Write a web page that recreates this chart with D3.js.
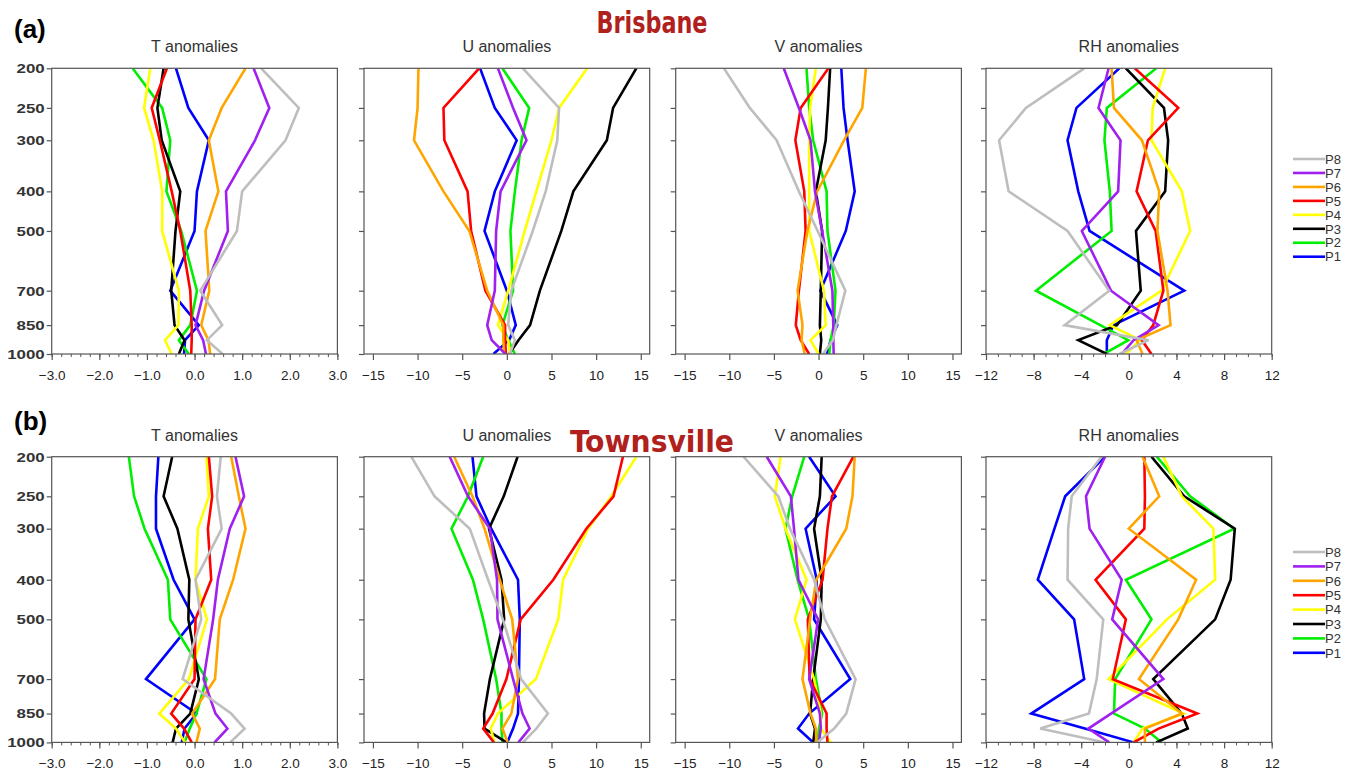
<!DOCTYPE html>
<html>
<head>
<meta charset="utf-8">
<script src="https://cdn.jsdelivr.net/npm/d3@7"></script>
<style>
  html, body { margin: 0; padding: 0; background: #fff; }
  svg { display: block; }
</style>
</head>
<body>
<svg id="chart" width="1354" height="777"></svg>
<script>
// Pressure levels (hPa) and tick levels on the vertical axis
const levels = [200, 250, 300, 400, 500, 700, 850, 925, 1000];
const levelTicks = [200, 250, 300, 400, 500, 700, 850, 1000];

// Series (P1..P8) and their colours
const seriesNames = ["P1", "P2", "P3", "P4", "P5", "P6", "P7", "P8"];
const seriesColors = ["#0000ff", "#00ee00", "#000000", "#ffff00", "#ff0000", "#ffa500", "#a020f0", "#bebebe"];

// Panel variables
const panelTitles = ["T anomalies", "U anomalies", "V anomalies", "RH anomalies"];
const xDomains = [[-3, 3], [-16, 16], [-16, 16], [-12, 12]];
const xMajorTicks = [[-3, -2, -1, 0, 1, 2, 3], [-15, -10, -5, 0, 5, 10, 15], [-15, -10, -5, 0, 5, 10, 15], [-12, -8, -4, 0, 4, 8, 12]];
const xMinorStep = [0.2, null, null, 1];

// Brisbane profiles, one row per series (P1..P8), one value per level
const brisbaneT = [
  [-0.39, -0.13, 0.30, 0.05, 0.00, -0.51, 0.09, -0.20, -0.22],
  [-1.30, -0.68, -0.51, -0.59, -0.28, 0.05, -0.09, -0.33, -0.12],
  [-0.65, -0.78, -0.69, -0.30, -0.40, -0.49, -0.42, -0.21, -0.33],
  [-0.93, -1.06, -0.86, -0.68, -0.68, -0.33, -0.34, -0.62, -0.48],
  [-0.58, -0.90, -0.73, -0.48, -0.30, -0.09, -0.06, -0.06, -0.07],
  [1.07, 0.57, 0.30, 0.50, 0.23, 0.31, 0.14, 0.29, 0.33],
  [1.24, 1.57, 1.27, 0.66, 0.70, 0.20, 0.02, 0.18, 0.24],
  [1.40, 2.19, 1.91, 1.00, 0.89, 0.12, 0.58, 0.26, 0.59]
];
const brisbaneU = [
  [-3.0, -1.35, 1.1, -1.35, -2.5, 0.0, 1.0, 0.25, -1.5],
  [-0.5, 2.5, 1.65, 0.9, 0.4, 0.7, -0.5, 0.15, 0.9],
  [14.5, 11.9, 11.2, 7.45, 6.1, 3.7, 2.6, 1.3, 0.25],
  [9.0, 5.85, 5.0, 3.3, 2.0, 0.15, -1.0, 0.15, 0.35],
  [-3.1, -7.1, -7.0, -4.4, -4.0, -2.4, -0.2, -0.2, -0.1],
  [-9.9, -10.0, -10.4, -7.1, -4.2, -2.2, -0.4, -0.4, -0.3],
  [-1.0, 0.7, 2.2, -0.7, -1.2, -1.35, -2.2, -1.7, -0.15],
  [1.8, 5.85, 5.65, 4.35, 2.9, 0.5, 0.15, 0.9, 0.35]
];
const brisbaneV = [
  [2.55, 2.8, 3.25, 4.05, 3.05, 0.2, 2.1, 1.35, 0.95],
  [-1.35, -1.05, -0.6, 0.9, 1.0, 1.9, 1.7, 1.35, 1.2],
  [1.3, 1.05, 0.8, -0.3, 0.4, 0.25, 0.15, 0.3, 0.15],
  [-0.3, -0.95, -1.05, -1.05, -1.05, 0.6, 0.8, -0.9, 0.0],
  [1.1, -2.0, -2.6, -1.6, -1.45, -2.2, -2.55, -2.0, -1.05],
  [5.3, 4.9, 2.85, -0.15, -1.25, -2.35, -1.8, -1.9, -1.55],
  [-3.9, -2.2, -0.9, -0.4, 0.4, 1.55, 1.65, 1.65, 1.7],
  [-10.6, -7.7, -4.7, -2.2, -0.1, 3.0, 2.0, 1.6, 0.5]
];
const brisbaneRH = [
  [-0.8, -4.4, -5.15, -4.25, -3.3, 4.65, -1.3, -1.85, -1.85],
  [2.3, -1.85, -2.05, -1.6, -1.45, -7.8, -2.4, -0.05, -2.1],
  [-0.25, 2.95, 3.3, 3.05, 0.6, 1.0, -1.0, -4.25, -1.85],
  [3.05, 2.0, 1.9, 4.45, 5.15, 2.75, -1.6, 0.95, -0.25],
  [0.5, 4.15, 1.6, 0.65, 2.25, 2.9, 2.05, 1.1, 1.9],
  [-1.45, -1.25, 1.1, 2.55, 2.4, 3.25, 3.5, 0.65, 1.15],
  [-1.7, -2.55, -0.7, -0.9, -3.95, -1.5, 2.5, 0.4, -0.6],
  [-3.75, -8.65, -10.9, -10.1, -5.15, -1.65, -5.4, 1.65, -0.8]
];

// Townsville profiles
const townsvilleT = [
  [-0.76, -0.81, -0.81, -0.44, 0.00, -1.02, 0.04, -0.21, -0.27],
  [-1.38, -1.27, -1.05, -0.56, -0.51, 0.25, 0.04, -0.10, -0.21],
  [-0.47, -0.65, -0.36, -0.11, -0.13, 0.09, -0.09, -0.39, -0.46],
  [0.25, 0.30, 0.07, 0.02, 0.26, -0.12, -0.74, -0.39, -0.20],
  [0.30, 0.37, 0.28, 0.35, 0.02, 0.00, -0.49, -0.22, -0.06],
  [0.77, 0.93, 1.07, 0.81, 0.53, 0.43, -0.05, 0.11, 0.04],
  [0.86, 1.04, 0.74, 0.49, 0.39, 0.19, 0.44, 0.69, 0.42],
  [0.55, 0.47, 0.57, 0.02, 0.14, -0.25, 0.77, 1.05, 0.75]
];
const townsvilleU = [
  [-3.85, -3.4, -1.75, 1.25, 1.45, 1.35, 1.25, 0.7, 0.05],
  [-2.65, -4.35, -6.2, -3.8, -2.65, -1.2, -0.6, -0.6, -0.5],
  [1.2, -0.35, -2.0, -0.6, -0.3, -1.9, -2.55, -2.5, -0.05],
  [14.5, 11.7, 9.1, 6.3, 5.75, 3.25, -1.0, -1.8, -1.4],
  [13.0, 11.95, 8.9, 5.2, 1.55, -0.05, -1.6, -2.65, -1.45],
  [-5.9, -3.85, -2.5, -0.8, 0.6, 1.25, 0.5, -0.5, 0.1],
  [-6.4, -4.35, -1.9, -1.1, -1.05, 0.7, 1.75, 2.55, 1.3],
  [-10.7, -8.1, -4.15, -2.1, -0.45, 1.6, 4.6, 3.3, 1.8]
];
const townsvilleV = [
  [-1.05, 1.9, -1.45, -0.2, -0.5, 3.55, -1.05, -2.3, -0.6],
  [-1.6, -2.95, -3.7, -2.35, -1.05, -0.3, 0.4, 0.05, -0.15],
  [0.35, 0.15, -0.5, 0.35, 0.25, -0.6, -0.95, -0.4, -0.6],
  [-4.25, -4.9, -3.7, -1.35, -2.65, -0.5, 0.25, 0.25, 1.35],
  [3.9, 1.5, 1.0, 0.45, -1.2, -1.0, 0.9, 0.9, 1.0],
  [4.05, 3.8, 3.1, -0.25, -0.95, -1.8, -0.9, -0.3, -0.25],
  [-5.8, -3.1, -2.75, -2.25, -0.05, -1.05, 0.15, 0.25, 0.05],
  [-8.4, -4.5, -3.2, -0.5, 0.7, 4.15, 3.1, 1.75, -0.15]
];
const townsvilleRH = [
  [-2.0, -5.35, -6.25, -7.65, -4.6, -3.75, -8.2, -3.7, 0.4],
  [2.35, 5.15, 8.85, -0.25, 1.9, -1.15, -1.25, 1.35, 2.75],
  [1.9, 4.65, 8.9, 8.55, 7.25, 2.05, 4.45, 4.95, 2.3],
  [2.9, 4.45, 7.1, 7.25, 3.2, -1.7, 4.6, 1.15, 0.4],
  [1.3, 1.35, 1.3, -2.8, -0.25, -1.35, 5.75, 2.5, 0.4],
  [1.15, 2.55, 0.0, 5.65, 4.15, 0.85, 4.45, 1.35, 1.35],
  [-2.0, -3.6, -3.3, -0.6, -1.4, 2.9, -1.5, -3.4, -1.65],
  [-2.3, -4.8, -5.1, -5.15, -2.15, -2.7, -3.35, -7.45, -2.0]
];

const stationNames = ["Brisbane", "Townsville"];
const panelLetters = ["(a)", "(b)"];
const stationData = [
  [brisbaneT, brisbaneU, brisbaneV, brisbaneRH],
  [townsvilleT, townsvilleU, townsvilleV, townsvilleRH]
];

// Layout
const svg = d3.select("#chart");
const colLeft = [51.7, 364, 675.7, 986];
const panelW = 285.7;
const rowTop = [68.3, 456.7];
const panelH = 285.7;
const letterBaseline = [38, 430];
const stationBaseline = [33, 452];
const stationWidth = [111, 164];
const legendTop = [159, 552];
const legendStep = [13.96, 14.4];
const axisColor = "#555";
const textColor = "#222";
const fontFamily = "'Liberation Sans', Arial, Helvetica, sans-serif";
const yLabelStretch = 1.25;

stationData.forEach((rowData, r) => {
  const top = rowTop[r];
  const y = d3.scaleLog().domain([200, 1000]).range([top, top + panelH]);

  rowData.forEach((panelSeries, c) => {
    const left = colLeft[c];
    const x = d3.scaleLinear().domain(xDomains[c]).range([left, left + panelW]);
    const g = svg.append("g");

    // Panel title
    g.append("text")
      .attr("x", left + panelW / 2).attr("y", top - 16)
      .attr("text-anchor", "middle")
      .attr("font-family", fontFamily).attr("font-size", 16)
      .attr("fill", "#333")
      .text(panelTitles[c]);

    // Clip region for the profile lines
    const clipId = `clip-${r}-${c}`;
    g.append("clipPath").attr("id", clipId)
      .append("rect")
      .attr("x", left).attr("y", top).attr("width", panelW).attr("height", panelH);

    const line = d3.line()
      .x(d => x(d.v))
      .y(d => y(d.p));

    const lines = g.append("g").attr("clip-path", `url(#${clipId})`);
    panelSeries.forEach((vals, s) => {
      const pts = vals.map((v, i) => ({ v, p: levels[i] }));
      lines.append("path")
        .datum(pts)
        .attr("d", line)
        .attr("fill", "none")
        .attr("stroke", seriesColors[s])
        .attr("stroke-width", 2.6)
        .attr("stroke-linejoin", "miter")
        .attr("stroke-miterlimit", 3);
    });

    // Frame
    g.append("rect")
      .attr("x", left).attr("y", top)
      .attr("width", panelW).attr("height", panelH)
      .attr("fill", "none").attr("stroke", axisColor).attr("stroke-width", 1.2);

    // Bottom axis: minor ticks
    if (xMinorStep[c]) {
      const [a, b] = xDomains[c];
      const minor = d3.range(a, b + 1e-9, xMinorStep[c]).map(v => +v.toFixed(4));
      const minorAxis = d3.axisBottom(x).tickValues(minor).tickSize(3).tickFormat("");
      const mg = g.append("g").attr("transform", `translate(0,${top + panelH})`).call(minorAxis);
      mg.select(".domain").remove();
      mg.selectAll("line").attr("stroke", axisColor).attr("stroke-width", 1);
    }

    // Bottom axis: major ticks and labels
    const fmt = c === 0 ? d3.format(".1f") : d3.format("d");
    const xAxis = d3.axisBottom(x).tickValues(xMajorTicks[c]).tickSize(6).tickPadding(10).tickFormat(fmt);
    const xg = g.append("g").attr("transform", `translate(0,${top + panelH})`).call(xAxis);
    xg.select(".domain").remove();
    xg.selectAll("line").attr("stroke", axisColor).attr("stroke-width", 1.2);
    xg.selectAll("text")
      .attr("font-family", fontFamily).attr("font-size", 13.5)
      .attr("fill", textColor);

    // Left axis: level ticks (labels on the first column only)
    const yAxis = d3.axisLeft(y).tickValues(levelTicks).tickSize(5).tickPadding(2)
      .tickFormat(c === 0 ? d3.format("d") : () => "");
    const yg = g.append("g").attr("transform", `translate(${left},0)`).call(yAxis);
    yg.select(".domain").remove();
    yg.selectAll("line").attr("stroke", axisColor).attr("stroke-width", 1.2);
    yg.selectAll("text")
      .attr("font-family", fontFamily).attr("font-size", 13.5)
      .attr("font-weight", "bold")
      .attr("x", -7 / yLabelStretch)
      .attr("transform", `scale(${yLabelStretch},1)`)
      .attr("fill", "#333");
  });

  // Row letter and station title
  svg.append("text")
    .attr("x", 14).attr("y", letterBaseline[r])
    .attr("font-family", fontFamily).attr("font-weight", "bold")
    .attr("font-size", 26).attr("fill", "#000")
    .text(panelLetters[r]);

  svg.append("text")
    .attr("x", 652).attr("y", stationBaseline[r])
    .attr("text-anchor", "middle")
    .attr("font-family", "'Liberation Sans Narrow', 'DejaVu Sans Condensed', Arial, sans-serif")
    .attr("font-weight", "bold").attr("font-size", 31)
    .attr("textLength", stationWidth[r]).attr("lengthAdjust", "spacingAndGlyphs")
    .attr("fill", "#b0201c")
    .text(stationNames[r]);

  // Legend (P8 at the top down to P1)
  const lg = svg.append("g");
  const order = d3.range(seriesNames.length).reverse();
  order.forEach((s, k) => {
    const ly = legendTop[r] + k * legendStep[r];
    lg.append("line")
      .attr("x1", 1293).attr("x2", 1325)
      .attr("y1", ly).attr("y2", ly)
      .attr("stroke", seriesColors[s]).attr("stroke-width", 2.6);
    lg.append("text")
      .attr("x", 1325).attr("y", ly + 4.7)
      .attr("font-family", fontFamily).attr("font-size", 13)
      .attr("fill", "#333")
      .text(seriesNames[s]);
  });
});
</script>
</body>
</html>
